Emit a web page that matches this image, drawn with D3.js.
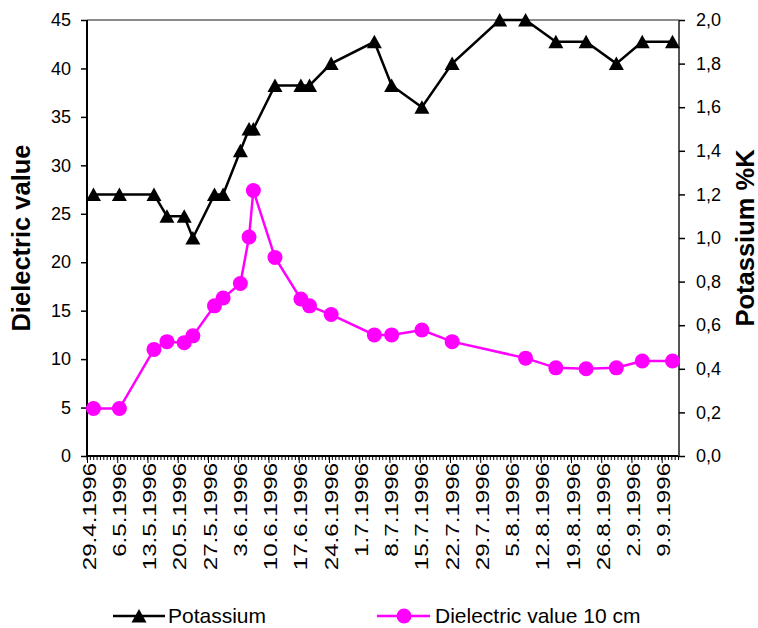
<!DOCTYPE html>
<html>
<head>
<meta charset="utf-8">
<script src="https://cdn.jsdelivr.net/npm/d3@7"></script>
<style>
  body { margin: 0; background: #fff; }
  text { font-family: "Liberation Sans", Arial, sans-serif; fill: #000; }
</style>
</head>
<body>
<svg id="chart" width="758" height="628"></svg>
<script>
// Sampling dates and measured values (1996)
const potassiumDates = ["1996-04-30","1996-05-06","1996-05-14","1996-05-17","1996-05-21","1996-05-23",
  "1996-05-28","1996-05-30","1996-06-03","1996-06-05","1996-06-06","1996-06-11","1996-06-17","1996-06-19",
  "1996-06-24","1996-07-04","1996-07-08","1996-07-15","1996-07-22","1996-08-02","1996-08-08","1996-08-15",
  "1996-08-22","1996-08-29","1996-09-04","1996-09-11"];
const potassiumValues = [1.2,1.2,1.2,1.1,1.1,1.0,1.2,1.2,1.4,1.5,1.5,1.7,1.7,1.7,1.8,1.9,1.7,1.6,1.8,2.0,2.0,1.9,1.9,1.8,1.9,1.9];

const dielectricDates = ["1996-04-30","1996-05-06","1996-05-14","1996-05-17","1996-05-21","1996-05-23",
  "1996-05-28","1996-05-30","1996-06-03","1996-06-05","1996-06-06","1996-06-11","1996-06-17","1996-06-19",
  "1996-06-24","1996-07-04","1996-07-08","1996-07-15","1996-07-22","1996-08-08","1996-08-15",
  "1996-08-22","1996-08-29","1996-09-04","1996-09-11"];
const dielectricValues = [4.9,4.9,11.0,11.8,11.7,12.4,15.5,16.3,17.8,22.6,27.4,20.5,16.2,15.5,14.6,12.5,12.5,13.0,11.8,10.1,9.1,9.0,9.1,9.8,9.8];

const weekLabels = ["29.4.1996","6.5.1996","13.5.1996","20.5.1996","27.5.1996","3.6.1996","10.6.1996",
  "17.6.1996","24.6.1996","1.7.1996","8.7.1996","15.7.1996","22.7.1996","29.7.1996","5.8.1996",
  "12.8.1996","19.8.1996","26.8.1996","2.9.1996","9.9.1996"];
const dielectricTicks = [0,5,10,15,20,25,30,35,40,45];
const potassiumTicks = [0,0.2,0.4,0.6,0.8,1.0,1.2,1.4,1.6,1.8,2.0];

const seriesNames = ["Potassium", "Dielectric value 10 cm"];
const axisTitles = ["Dielectric value", "Potassium %K"];

// Each sample sits in the middle of its day slot
const dayMid = s => { const d = d3.timeParse("%Y-%m-%d")(s); return d3.timeHour.offset(d, 12); };
const parseLabel = d3.timeParse("%d.%m.%Y");

const svg = d3.select("#chart");
const L = 87, R = 679, T = 20, B = 456;

const x = d3.scaleTime()
  .domain([new Date(1996, 3, 29), new Date(1996, 8, 13)])
  .range([L, R]);
const yL = d3.scaleLinear().domain([0, 45]).range([B, T]);
const yR = d3.scaleLinear().domain([0, 2]).range([B, T]);

const MAGENTA = "#ff00ff";

// Plot frame: grey top edge
svg.append("line").attr("x1", L).attr("x2", R).attr("y1", T).attr("y2", T)
  .attr("stroke", "#8c8c8c").attr("stroke-width", 2);

// Minor ticks on the date axis
const minor = [];
const step = 7 / 9; // days
for (let t = 0; t <= 137 + 1e-6; t += step) {
  minor.push(d3.timeMinute.offset(new Date(1996, 3, 29), Math.round(t * 1440)));
}
svg.append("g").selectAll("line").data(minor).join("line")
  .attr("x1", d => x(d)).attr("x2", d => x(d))
  .attr("y1", B).attr("y2", B + 4)
  .attr("stroke", "#000").attr("stroke-width", 1);

// Major date axis, labels stretched along their reading direction
const weekDates = weekLabels.map(parseLabel);
const xAxis = d3.axisBottom(x).tickValues(weekDates).tickSize(7).tickFormat((d, i) => weekLabels[i]);
const gx = svg.append("g").attr("transform", `translate(0,${B})`).call(xAxis);
gx.select(".domain").attr("stroke", "#000").attr("stroke-width", 2).attr("d", `M${L},0H${R}`);
gx.selectAll(".tick line").attr("stroke", "#000").attr("stroke-width", 1);
gx.selectAll(".tick text")
  .attr("font-size", 17.5)
  .attr("transform", "rotate(-90) scale(1.38,1)")
  .attr("text-anchor", "end")
  .attr("x", -5).attr("y", 2).attr("dy", "0.35em");

// Left axis
const gl = svg.append("g").attr("transform", `translate(${L},0)`)
  .call(d3.axisLeft(yL).tickValues(dielectricTicks).tickSize(6).tickPadding(10).tickFormat(d3.format("d")));
gl.select(".domain").attr("stroke", "#000").attr("stroke-width", 2).attr("d", `M0,${T}V${B}`);
gl.selectAll(".tick line").attr("stroke", "#000").attr("stroke-width", 1.5);
gl.selectAll(".tick text").attr("font-size", 18);

// Right axis
const gr = svg.append("g").attr("transform", `translate(${R},0)`)
  .call(d3.axisRight(yR).tickValues(potassiumTicks).tickSize(6).tickPadding(11)
    .tickFormat(d => d3.format(".1f")(d).replace(".", ",")));
gr.select(".domain").attr("stroke", "#555").attr("stroke-width", 2).attr("d", `M0,${T}V${B}`);
gr.selectAll(".tick line").attr("stroke", "#000").attr("stroke-width", 1.5);
gr.selectAll(".tick text").attr("font-size", 18);

// Axis titles
svg.append("text").attr("transform", `translate(30,${(T + B) / 2}) rotate(-90)`)
  .attr("text-anchor", "middle").attr("font-size", 25.5).attr("font-weight", "bold")
  .text(axisTitles[0]);
svg.append("text").attr("transform", `translate(754,${(T + B) / 2}) rotate(-90)`)
  .attr("text-anchor", "middle").attr("font-size", 25.5).attr("font-weight", "bold")
  .text(axisTitles[1]);

// Marker shapes
const triPath = "M0,-7L7.5,6.5L-7.5,6.5Z";

// Potassium series
const kData = potassiumDates.map((d, i) => ({ date: dayMid(d), v: potassiumValues[i] }));
svg.append("path").datum(kData)
  .attr("fill", "none").attr("stroke", "#000").attr("stroke-width", 2.5)
  .attr("d", d3.line().x(d => x(d.date)).y(d => yR(d.v)));
svg.append("g").selectAll("path").data(kData).join("path")
  .attr("transform", d => `translate(${x(d.date)},${yR(d.v)})`)
  .attr("d", triPath).attr("fill", "#000");

// Dielectric series
const eData = dielectricDates.map((d, i) => ({ date: dayMid(d), v: dielectricValues[i] }));
svg.append("path").datum(eData)
  .attr("fill", "none").attr("stroke", MAGENTA).attr("stroke-width", 2.5)
  .attr("d", d3.line().x(d => x(d.date)).y(d => yL(d.v)));
svg.append("g").selectAll("circle").data(eData).join("circle")
  .attr("cx", d => x(d.date)).attr("cy", d => yL(d.v)).attr("r", 7.5)
  .attr("fill", MAGENTA);

// Legend
const lg = svg.append("g").attr("transform", "translate(0,616)");
lg.append("line").attr("x1", 113).attr("x2", 165).attr("stroke", "#000").attr("stroke-width", 2.5);
lg.append("path").attr("transform", "translate(139,0)").attr("d", triPath).attr("fill", "#000");
lg.append("text").attr("x", 168).attr("dy", "0.34em").attr("font-size", 21).text(seriesNames[0]);
lg.append("line").attr("x1", 377).attr("x2", 430).attr("stroke", MAGENTA).attr("stroke-width", 2.5);
lg.append("circle").attr("cx", 404).attr("r", 7.5).attr("fill", MAGENTA);
lg.append("text").attr("x", 435).attr("dy", "0.34em").attr("font-size", 21).text(seriesNames[1]);
</script>
</body>
</html>
